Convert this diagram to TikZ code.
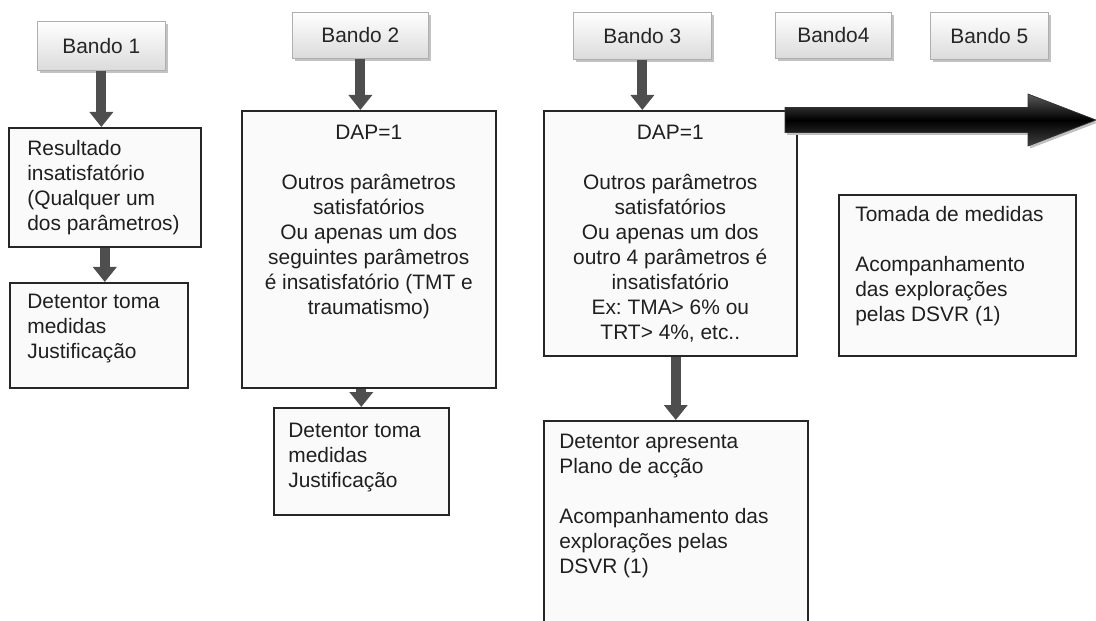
\documentclass[tikz,border=0pt]{standalone}
\usepackage{fontspec}
\setmainfont{Liberation Sans}
\frenchspacing
\usetikzlibrary{positioning}
\usetikzlibrary{arrows.meta}
\usetikzlibrary{shadows}
\definecolor{setacinza}{RGB}{78,78,78}
\definecolor{bordacinza}{RGB}{175,175,175}

\begin{document}
\begin{tikzpicture}[
		font=\fontsize{11.9}{14.2}\selectfont,
		bando/.style={draw=bordacinza, top color=white, bottom color=black!14,
				drop shadow={shadow xshift=0.06cm, shadow yshift=-0.06cm, fill=black!40, opacity=0.6},
				anchor=north west, inner sep=0pt, text=black!85}, % header boxes
		caixa/.style={draw=black!85, fill=black!2, line width=0.9pt, anchor=north west, inner sep=0pt},
		texto/.style={align=left, inner sep=0pt, text=black!88},
		seta/.style={draw=setacinza, line width=0.2cm, -{Triangle[width=0.46cm,length=0.3cm]}},
	]
	\clip (0,0) rectangle (21.92,-12.42);

	% --- header boxes
	\node[bando, minimum width=2.56cm, minimum height=0.98cm] (b1) at (0.74,-0.42) {Bando 1};
	\node[bando, minimum width=2.72cm, minimum height=0.92cm] (b2) at (5.84,-0.24) {Bando 2};
	\node[bando, minimum width=2.76cm, minimum height=0.94cm] (b3) at (11.46,-0.24) {Bando 3};
	\node[bando, minimum width=2.32cm, minimum height=0.92cm] (b4) at (15.50,-0.24) {Bando4};
	\node[bando, minimum width=2.36cm, minimum height=0.94cm] (b5) at (18.60,-0.24) {Bando 5};

	% --- boxes of each column
	\node[caixa, minimum width=3.84cm, minimum height=2.38cm] (r1) at (0.16,-2.54) {};
	\node[caixa, minimum width=3.56cm, minimum height=2.10cm] (r2) at (0.18,-5.64) {};
	\node[caixa, minimum width=5.08cm, minimum height=5.54cm] (r3) at (4.82,-2.20) {};
	\node[caixa, minimum width=3.50cm, minimum height=2.14cm] (r4) at (5.46,-8.14) {};
	\node[caixa, minimum width=5.06cm, minimum height=4.90cm] (r5) at (10.86,-2.20) {};
	\node[caixa, minimum width=5.28cm, minimum height=4.40cm] (r6) at (10.86,-8.40) {};
	\node[caixa, minimum width=4.74cm, minimum height=3.22cm] (r7) at (16.76,-3.88) {};

	% --- texts
	\node[texto, below right=0.26cm and 0.38cm of r1.north west] (t1)
	{Resultado\\insatisfatório\\(Qualquer um\\dos parâmetros)};
	\node[texto, below right=0.24cm and 0.36cm of r2.north west] (t2)
	{Detentor toma\\medidas\\Justificação};
	\node[texto, align=center, below=0.30cm of r3.north] (t3)
	{DAP=1\\[14.2pt]Outros parâmetros\\satisfatórios\\Ou apenas um dos\\seguintes parâmetros\\é insatisfatório (TMT e\\traumatismo)};
	\node[texto, below right=0.32cm and 0.30cm of r4.north west] (t4)
	{Detentor toma\\medidas\\Justificação};
	\node[texto, align=center, below=0.30cm of r5.north] (t5)
	{DAP=1\\[14.2pt]Outros parâmetros\\satisfatórios\\Ou apenas um dos\\outro 4 parâmetros é\\insatisfatório\\Ex: TMA> 6\% ou\\TRT> 4\%, etc..};
	\node[texto, below right=0.28cm and 0.32cm of r6.north west] (t6)
	{Detentor apresenta\\Plano de acção\\[14.2pt]Acompanhamento das\\explorações pelas\\DSVR (1)};
	\node[texto, below right=0.24cm and 0.34cm of r7.north west] (t7)
	{Tomada de medidas\\[14.2pt]Acompanhamento\\das explorações\\pelas DSVR (1)};

	% --- grey arrows
	\draw[seta] (b1.south) -- (b1.south |- r1.north);
	\draw[seta] (r1.south) -- (r1.south |- r2.north);
	\draw[seta] (b2.south) -- (b2.south |- r3.north);
	\draw[seta] (r4.north |- r3.south) -- (r4.north);
	\draw[seta] (b3.south) -- (b3.south |- r5.north);
	\draw[seta] (r6.north |- r5.south) -- (r6.north);

	% --- big black arrow
	\fill[black!25] (15.74,-2.20) -- (20.60,-2.20) -- (20.60,-1.93) -- (21.96,-2.45)
	-- (20.60,-2.97) -- (20.60,-2.70) -- (15.74,-2.70) -- cycle;
	\shade[top color=black!65, bottom color=black!75, middle color=black, draw=black!80]
	(15.70,-2.15) -- (20.56,-2.15) -- (20.56,-1.88) -- (21.92,-2.40)
	-- (20.56,-2.92) -- (20.56,-2.65) -- (15.70,-2.65) -- cycle;
\end{tikzpicture}
\end{document}
